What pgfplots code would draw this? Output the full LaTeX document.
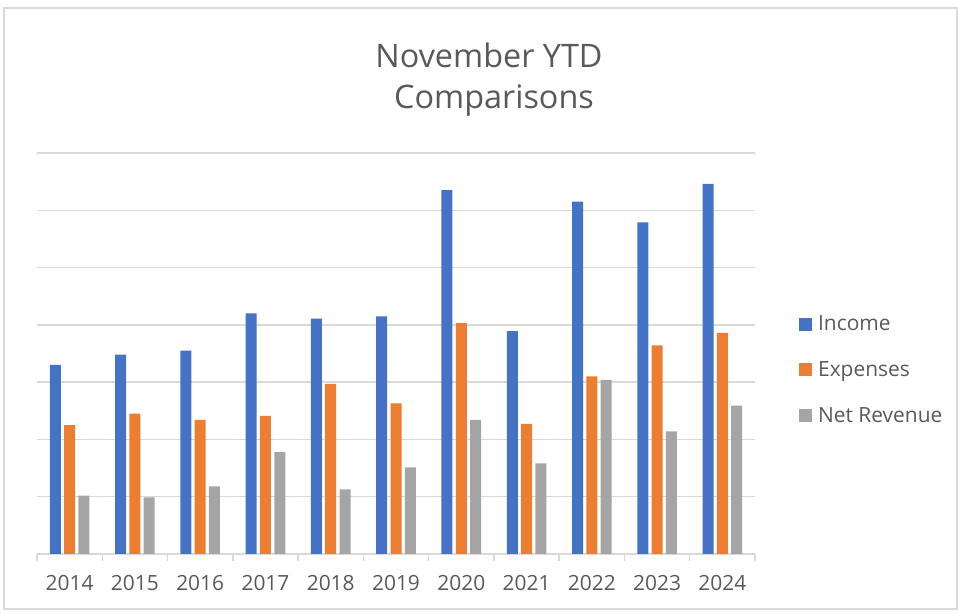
\documentclass[border=0pt]{standalone}
\usepackage{pgfplots}
\pgfplotsset{compat=1.18}
\usepackage{fontspec}
\setmainfont{Open Sans}
\definecolor{inc}{HTML}{4472C4}
\definecolor{exp}{HTML}{ED7D31}
\definecolor{net}{HTML}{A5A5A5}
\definecolor{txt}{HTML}{595959}
\definecolor{grd}{HTML}{D9D9D9}
\begin{document}
\begin{tikzpicture}[x=1bp,y=1bp]
\path[use as bounding box] (0,0) rectangle (958,614);
\draw[grd, line width=1.3bp] (4,5) rectangle (957,606);
\node[text=txt, font=\fontsize{32.5}{32.5}\selectfont] at (489,559) {November YTD};
\node[text=txt, font=\fontsize{32.5}{32.5}\selectfont] at (494,513) {Comparisons};
\begin{axis}[
  at={(37bp,60bp)}, anchor=south west,
  scale only axis, width=718bp, height=401bp,
  xmin=-0.5, xmax=10.5, ymin=0, ymax=7,
  ybar=3.3bp, bar width=11bp,
  axis line style={draw=none},
  ytick={0,...,7}, yticklabels={},
  ymajorgrids, grid style={grd, line width=1.5bp},
  major y tick style={draw=none},
  xtick={0,...,10},
  xticklabels={2014,2015,2016,2017,2018,2019,2020,2021,2022,2023,2024},
  minor xtick={-0.5,0.5,...,10.5},
  xtick pos=bottom, tick align=outside,
  major x tick style={draw=none},
  minor x tick style={grd, line width=1.5bp},
  minor tick length=7bp, major tick length=7bp,
  xticklabel style={font=\fontsize{21}{21}\selectfont, text=txt, yshift=-11bp},
  legend style={at={(1.057,0.459)}, anchor=west, draw=none, fill=none,
    font=\fontsize{21}{21}\selectfont, text=txt, row sep=25.5bp},
  legend cell align=left,
  legend image code/.code={\fill[#1, draw=none] (0bp,-6.5bp) rectangle (13bp,6.5bp); \path (0bp,0bp) -- (17bp,0bp);},
]
\addplot[fill=inc, draw=none] coordinates {(0,3.30) (1,3.48) (2,3.55) (3,4.20) (4,4.11) (5,4.15) (6,6.35) (7,3.89) (8,6.15) (9,5.79) (10,6.46)};
\addplot[fill=exp, draw=none] coordinates {(0,2.25) (1,2.45) (2,2.34) (3,2.41) (4,2.97) (5,2.63) (6,4.03) (7,2.27) (8,3.10) (9,3.64) (10,3.86)};
\addplot[fill=net, draw=none] coordinates {(0,1.02) (1,0.99) (2,1.18) (3,1.78) (4,1.13) (5,1.51) (6,2.34) (7,1.58) (8,3.04) (9,2.14) (10,2.59)};
\legend{Income, Expenses, Net Revenue}
\end{axis}
\end{tikzpicture}
\end{document}
